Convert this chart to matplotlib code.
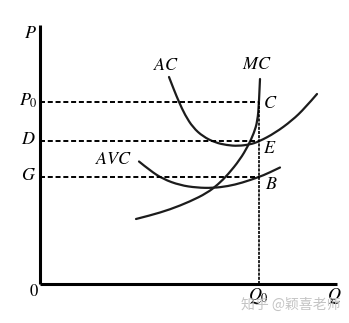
import matplotlib
matplotlib.use("Agg")
import matplotlib.pyplot as plt
from matplotlib.path import Path
from matplotlib.patches import PathPatch

plt.rcParams['mathtext.fontset'] = 'stix'
plt.rcParams['lines.scale_dashes'] = False

# curve points (quantity, cost)
ac_q = [12.9, 13.4, 13.9, 14.5, 15.3, 16.3, 17.5, 18.7, 19.8, 21.0, 21.9, 23.5, 25.2, 26.5, 27.7]
ac_c = [20.7, 19.4, 18.2, 16.9, 15.65, 14.75, 14.15, 13.88, 13.8, 13.95, 14.25, 15.1, 16.35, 17.6, 19.0]

mc_q = [9.6, 11.0, 13.0, 15.0, 16.7, 17.8, 18.8, 20.0, 20.8, 21.4, 21.75, 21.9, 22.0]
mc_c = [6.5, 6.85, 7.45, 8.25, 9.1, 9.95, 10.95, 12.45, 13.8, 15.1, 16.3, 18.1, 20.5]

avc_q = [9.9, 11.0, 12.3, 14.0, 15.7, 17.3, 18.8, 20.2, 21.9, 22.8, 24.0]
avc_c = [12.25, 11.35, 10.5, 9.88, 9.63, 9.6, 9.78, 10.12, 10.7, 11.07, 11.65]

q0 = 21.9
levels = [18.2, 14.3, 10.7]          # P0, D, G
level_labels = ['$P_0$', '$D$', '$G$']
x_end, y_end = 29.7, 25.9


def smooth_curve(ax, xs, ys, **kw):
    # quadratic bezier pieces through the midpoints, read points as controls
    pts = list(zip(xs, ys))
    verts = [pts[0]]
    codes = [Path.MOVETO]
    for i in range(1, len(pts) - 1):
        mid = ((pts[i][0] + pts[i + 1][0]) / 2, (pts[i][1] + pts[i + 1][1]) / 2)
        if i == len(pts) - 2:
            mid = pts[-1]
        verts += [pts[i], mid]
        codes += [Path.CURVE3, Path.CURVE3]
    ax.add_patch(PathPatch(Path(verts, codes), fill=False, **kw))


fig = plt.figure(figsize=(3.49, 3.23), dpi=100)
ax = fig.add_axes([0, 0, 1, 1])
ax.set_xlim(-4.0, 30.9)
ax.set_ylim(-3.9, 28.4)
ax.axis('off')

# axes
ax.plot([0, 0], [0, y_end], color='black', lw=2.2, solid_capstyle='butt')
ax.plot([0, x_end], [0, 0], color='black', lw=2.2, solid_capstyle='butt')

# guide lines
for lv in levels:
    ax.plot([0, q0], [lv, lv], color='black', lw=1.4, dashes=(3.6, 2.0))
ax.plot([q0, q0], [0, levels[0]], color='black', lw=1.2, dashes=(2.2, 0.8))

# cost curves
curve_kw = dict(edgecolor='#1c1c1c', lw=1.6, capstyle='round')
smooth_curve(ax, ac_q, ac_c, **curve_kw)
smooth_curve(ax, mc_q, mc_c, **curve_kw)
smooth_curve(ax, avc_q, avc_c, **curve_kw)

fs = 13
txt = dict(fontsize=fs, ha='center', va='center')
ax.text(-1.0, 25.1, '$P$', **txt)
for lv, lab in zip(levels, level_labels):
    ax.text(-1.15, lv + 0.15, lab, **txt)
ax.text(7.4, 12.5, '$AVC$', **txt)
ax.text(12.6, 21.9, '$AC$', **txt)
ax.text(21.7, 22.0, '$MC$', **txt)
ax.text(23.0, 18.1, '$C$', **txt)
ax.text(23.0, 13.6, '$E$', **txt)
ax.text(23.1, 10.0, '$B$', **txt)
ax.text(-0.6, -0.8, '0', fontsize=12, ha='center', va='center', family='STIXGeneral')
ax.text(21.8, -1.2, '$Q_0$', **txt)
ax.text(29.4, -1.2, '$Q$', **txt)

# watermark
ax.text(25.1, -2.1, '知乎 @颖喜老师', fontsize=10, color='#c4c4c4',
        ha='center', va='center', family=['Noto Sans CJK SC', 'DejaVu Sans'])

fig.savefig('out.png', dpi=100)
